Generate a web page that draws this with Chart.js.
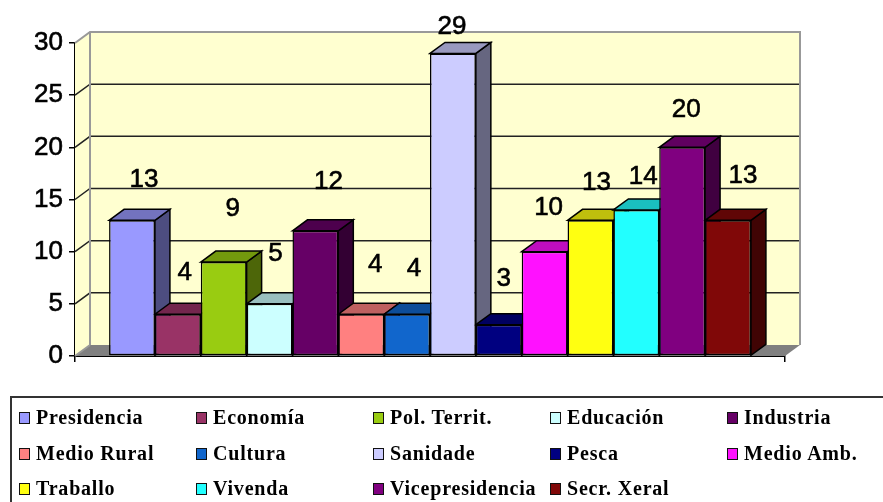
<!DOCTYPE html>
<html>
<head>
<meta charset="utf-8">
<script src="https://cdn.jsdelivr.net/npm/chart.js@4"></script>
<style>
html, body { margin: 0; padding: 0; background: #fff; overflow: hidden; }
#wrap { position: relative; width: 883px; height: 502px; overflow: hidden; filter: blur(0.4px); }
#legend {
  position: absolute; left: 10px; top: 396px; width: 900px; height: 130px;
  border: 2px solid #333; box-sizing: border-box;
  font: bold 20px "Liberation Serif", serif; color: #000; letter-spacing: 0.8px;
}
#legend span.item { position: absolute; white-space: nowrap; line-height: 22px; }
#legend i {
  display: inline-block; width: 9px; height: 10px; border: 1.5px solid #111;
  margin-right: 6px; vertical-align: 0px;
}
</style>
</head>
<body>
<div id="wrap">
  <canvas id="grafico" width="883" height="502"></canvas>
  <div id="legend"></div>
</div>
<script>
var categories = ['Presidencia', 'Economía', 'Pol. Territ.', 'Educación', 'Industria',
  'Medio Rural', 'Cultura', 'Sanidade', 'Pesca', 'Medio Amb.',
  'Traballo', 'Vivenda', 'Vicepresidencia', 'Secr. Xeral'];
var values = [13, 4, 9, 5, 12, 4, 4, 29, 3, 10, 13, 14, 20, 13];
var colors = ['#9999FF', '#993366', '#99CC11', '#CCFFFF', '#660066',
  '#FF8080', '#1166CC', '#CCCCFF', '#000080', '#FF11FF',
  '#FFFF11', '#22FFFF', '#800080', '#800808'];
var yTicks = [0, 5, 10, 15, 20, 25, 30];

// the value labels float around in the original, so each one gets its own shift
var labelDx = [12, 7, 9, 6, 13, 14, 7, -1, 5, 4, 6, 7, 4, 15];
var labelDy = [-41, -41, -53, -50, -49, -49, -45, -27, -46, -44, -38, -33, -38, -45];

var depthX = 15, depthY = 11;

function shade(hex, f) {
  var n = parseInt(hex.slice(1), 16);
  return 'rgb(' + Math.round((n >> 16) * f) + ',' + Math.round(((n >> 8) & 255) * f) + ',' + Math.round((n & 255) * f) + ')';
}

function poly(ctx, pts, fill, stroke, lw) {
  ctx.beginPath();
  ctx.moveTo(pts[0][0], pts[0][1]);
  for (var i = 1; i < pts.length; i++) ctx.lineTo(pts[i][0], pts[i][1]);
  ctx.closePath();
  if (fill) { ctx.fillStyle = fill; ctx.fill(); }
  if (stroke) { ctx.strokeStyle = stroke; ctx.lineWidth = lw; ctx.stroke(); }
}

var box3d = {
  id: 'box3d',
  beforeDatasetsDraw: function (chart) {
    var ctx = chart.ctx, a = chart.chartArea, y = chart.scales.y;
    var l = a.left, r = a.right, t = a.top, b = a.bottom;
    ctx.save();
    // walls and floor
    poly(ctx, [[l, b], [l + depthX, b - depthY], [l + depthX, t - depthY], [l, t]], '#FFFFD0');
    poly(ctx, [[l + depthX, b - depthY], [r + depthX, b - depthY], [r + depthX, t - depthY], [l + depthX, t - depthY]], '#FFFFD0');
    poly(ctx, [[l, b], [r, b], [r + depthX, b - depthY], [l + depthX, b - depthY]], '#808080');
    // grid lines, back wall plus the bit down the side wall
    yTicks.forEach(function (v) {
      if (v === 0 || v === 30) return;
      var py = y.getPixelForValue(v);
      ctx.beginPath();
      ctx.moveTo(l, py);
      ctx.lineTo(l + depthX, py - depthY);
      ctx.lineTo(r + depthX, py - depthY);
      ctx.strokeStyle = '#222';
      ctx.lineWidth = 1.5;
      ctx.stroke();
    });
    // grey frame
    ctx.beginPath();
    ctx.moveTo(l, t);
    ctx.lineTo(l + depthX, t - depthY);
    ctx.lineTo(r + depthX, t - depthY);
    ctx.lineTo(r + depthX, b - depthY);
    ctx.moveTo(l + depthX, t - depthY);
    ctx.lineTo(l + depthX, b - depthY);
    ctx.moveTo(l, b);
    ctx.lineTo(l + depthX, b - depthY);
    ctx.strokeStyle = '#999';
    ctx.lineWidth = 2;
    ctx.stroke();
    // sides and tops of the bars, left to right, fronts get painted over them afterwards
    chart.data.datasets.forEach(function (ds, i) {
      var bar = chart.getDatasetMeta(i).data[0];
      var x0 = bar.x - bar.width / 2, x1 = bar.x + bar.width / 2;
      poly(ctx, [[x1, bar.y], [x1 + depthX, bar.y - depthY], [x1 + depthX, bar.base - depthY], [x1, bar.base]], shade(ds.backgroundColor, 0.5), '#000', 1.5);
      poly(ctx, [[x0, bar.y], [x0 + depthX, bar.y - depthY], [x1 + depthX, bar.y - depthY], [x1, bar.y]], shade(ds.backgroundColor, 0.75), '#000', 1.5);
    });
    ctx.restore();
  },
  afterDatasetsDraw: function (chart) {
    var ctx = chart.ctx;
    ctx.save();
    ctx.font = '26px "Liberation Sans", Arial, sans-serif';
    ctx.fillStyle = '#000';
    ctx.strokeStyle = '#000';
    ctx.lineWidth = 0.6;
    ctx.textAlign = 'center';
    ctx.textBaseline = 'middle';
    chart.data.datasets.forEach(function (ds, i) {
      var bar = chart.getDatasetMeta(i).data[0];
      var txt = String(ds.data[0]);
      ctx.fillText(txt, bar.x + labelDx[i], bar.y + labelDy[i]);
      ctx.strokeText(txt, bar.x + labelDx[i], bar.y + labelDy[i]);
    });
    ctx.restore();
  }
};

var datasets = categories.map(function (name, i) {
  return {
    label: name,
    data: [values[i]],
    backgroundColor: colors[i],
    borderColor: '#000',
    borderWidth: 1.5,
    borderSkipped: false
  };
});

var chart = new Chart(document.getElementById('grafico').getContext('2d'), {
  type: 'bar',
  data: { labels: [''], datasets: datasets },
  plugins: [box3d],
  options: {
    responsive: false,
    animation: false,
    layout: { padding: { left: 0, right: 98, top: 43, bottom: 140 } },
    datasets: { bar: { categoryPercentage: 0.904, barPercentage: 1 } },
    plugins: { legend: { display: false }, tooltip: { enabled: false } },
    scales: {
      x: {
        ticks: { display: false },
        grid: { drawOnChartArea: false, color: '#000', tickLength: 6, lineWidth: 1.5 },
        border: { color: '#000', width: 2 },
        afterFit: function (s) { s.height = 6; }
      },
      y: {
        min: 0, max: 30,
        ticks: {
          stepSize: 5, color: '#000', padding: 6,
          textStrokeColor: '#000', textStrokeWidth: 0.6,
          font: { family: '"Liberation Sans", Arial, sans-serif', size: 26 }
        },
        grid: { drawOnChartArea: false, color: '#000', tickLength: 6, lineWidth: 1.5 },
        border: { color: '#000', width: 2 },
        afterFit: function (s) { s.width = 75; }
      }
    }
  }
});

// legend is a plain grid under the chart, 5 columns by 3 rows
var legend = document.getElementById('legend');
categories.forEach(function (name, i) {
  var el = document.createElement('span');
  el.className = 'item';
  el.style.left = (7 + (i % 5) * 177) + 'px';
  el.style.top = (8 + Math.floor(i / 5) * 35.5) + 'px';
  var sw = document.createElement('i');
  sw.style.background = colors[i];
  el.appendChild(sw);
  el.appendChild(document.createTextNode(name));
  legend.appendChild(el);
});
</script>
</body>
</html>
